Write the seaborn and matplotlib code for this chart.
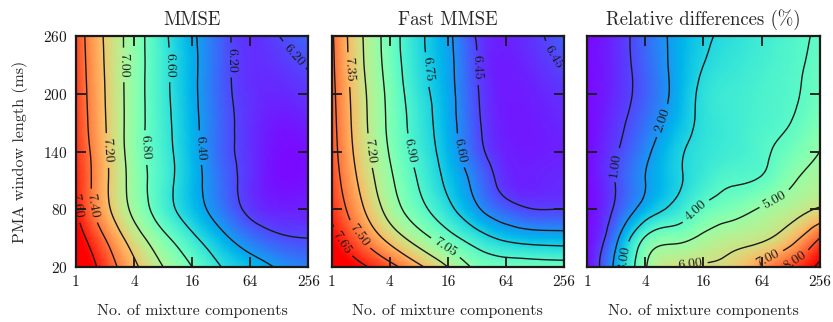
import numpy as np
import matplotlib
matplotlib.use("Agg")
import matplotlib.pyplot as plt
import matplotlib.tri as mtri
import seaborn as sns

# grid
components = [1, 2, 4, 8, 16, 32, 64, 128, 256]
window_ms = [20, 50, 80, 110, 140, 170, 200, 230, 260]

# rows: window length 20 -> 260, columns: components 1 -> 256
mmse = [
    [7.80, 7.52, 7.24, 7.00, 6.80, 6.60, 6.49, 6.38, 6.32],
    [7.70, 7.40, 7.10, 6.85, 6.64, 6.45, 6.30, 6.22, 6.20],
    [7.61, 7.26, 6.95, 6.69, 6.49, 6.31, 6.17, 6.12, 6.12],
    [7.58, 7.24, 6.92, 6.68, 6.47, 6.28, 6.15, 6.08, 6.09],
    [7.55, 7.23, 6.90, 6.67, 6.46, 6.26, 6.15, 6.08, 6.09],
    [7.53, 7.21, 6.90, 6.66, 6.45, 6.26, 6.15, 6.10, 6.12],
    [7.52, 7.20, 6.90, 6.65, 6.44, 6.25, 6.15, 6.13, 6.16],
    [7.51, 7.19, 6.90, 6.65, 6.44, 6.25, 6.15, 6.16, 6.21],
    [7.50, 7.18, 6.90, 6.64, 6.43, 6.25, 6.15, 6.20, 6.26],
]

fast_mmse = [
    [7.80, 7.68, 7.55, 7.38, 7.20, 7.02, 6.99, 6.98, 6.97],
    [7.70, 7.50, 7.30, 7.12, 6.96, 6.82, 6.72, 6.68, 6.67],
    [7.62, 7.38, 7.14, 6.95, 6.79, 6.62, 6.50, 6.45, 6.45],
    [7.58, 7.32, 7.08, 6.89, 6.72, 6.55, 6.41, 6.39, 6.40],
    [7.56, 7.28, 7.04, 6.85, 6.68, 6.49, 6.39, 6.38, 6.39],
    [7.55, 7.26, 7.02, 6.83, 6.66, 6.47, 6.38, 6.38, 6.40],
    [7.54, 7.25, 7.01, 6.81, 6.65, 6.46, 6.38, 6.39, 6.42],
    [7.53, 7.23, 6.99, 6.79, 6.64, 6.45, 6.38, 6.41, 6.46],
    [7.52, 7.22, 6.98, 6.78, 6.63, 6.44, 6.39, 6.43, 6.50],
]

rel_diff = [
    [0.30, 2.30, 4.90, 6.00, 6.10, 6.30, 7.30, 8.20, 9.20],
    [0.30, 1.80, 4.10, 4.70, 5.20, 5.60, 5.85, 6.60, 8.00],
    [0.30, 1.15, 2.40, 3.25, 4.15, 4.60, 5.10, 5.55, 6.10],
    [0.30, 1.05, 2.00, 2.80, 3.50, 3.90, 4.10, 4.85, 5.40],
    [0.30, 0.95, 1.80, 2.75, 3.30, 3.55, 3.85, 4.35, 5.00],
    [0.30, 0.80, 1.50, 2.40, 3.20, 3.50, 3.75, 4.00, 4.60],
    [0.30, 0.70, 1.30, 2.20, 3.20, 3.50, 3.70, 3.90, 4.30],
    [0.30, 0.70, 1.35, 2.20, 3.00, 3.35, 3.60, 3.85, 4.20],
    [0.30, 0.70, 1.40, 2.20, 2.85, 3.20, 3.50, 3.80, 4.10],
]

mmse_levels = [6.20, 6.40, 6.60, 6.80, 7.00, 7.20, 7.40, 7.60]
fast_levels = [6.45, 6.60, 6.75, 6.90, 7.05, 7.20, 7.35, 7.50, 7.65]
rel_levels = [1, 2, 3, 4, 5, 6, 7, 8, 9]

titles = ["MMSE", "Fast MMSE", "Relative differences (%)"]
x_ticks = [1, 4, 16, 64, 256]
y_ticks = [20, 80, 140, 200, 260]

# colour limits and where the contour labels sit (log2 components, ms)
color_limits = [(6.05, 7.65), (6.33, 7.70), (0.2, 9.0)]
label_spots = [
    [(0.14, 84), (0.69, 84), (1.07, 141), (1.59, 230), (2.38, 144),
     (3.14, 230), (4.28, 144), (5.31, 235), (7.38, 237)],
    [(0.31, 45), (0.93, 53), (0.55, 225), (1.34, 141), (2.71, 141),
     (3.23, 225), (3.99, 43), (4.43, 141), (4.95, 227), (7.42, 235)],
    [(0.96, 126), (2.5, 173), (1.3, 29), (3.71, 79), (6.46, 90),
     (3.54, 25), (6.19, 30), (7.08, 30)],
]

sns.set_theme(style="ticks")
plt.rcParams["font.family"] = ["cmr10", "DejaVu Serif"]
plt.rcParams["axes.formatter.use_mathtext"] = True
plt.rcParams["mathtext.fontset"] = "cm"

fig, axes = plt.subplots(1, 3, figsize=(8.33, 3.22), dpi=100, sharey=True)
fig.subplots_adjust(left=0.0912, right=0.984, bottom=0.171, top=0.888, wspace=0.1)

cmap = sns.color_palette("rainbow", as_cmap=True)
X, Y = np.meshgrid(np.log2(components), window_ms)
tri = mtri.Triangulation(X.ravel(), Y.ravel())
refiner = mtri.UniformTriRefiner(tri)

for ax, z, lev, title, lim, spots in zip(axes, [mmse, fast_mmse, rel_diff],
                                         [mmse_levels, fast_levels, rel_levels],
                                         titles, color_limits, label_spots):
    # smooth the coarse grid with matplotlib's cubic refiner
    tri_f, z_f = refiner.refine_field(np.array(z).ravel(), subdiv=3)
    ax.tripcolor(tri_f, z_f, shading="gouraud", cmap=cmap,
                 vmin=lim[0], vmax=lim[1], rasterized=True)
    cs = ax.tricontour(tri_f, z_f, levels=lev, colors="k", linewidths=1.0)
    ax.clabel(cs, fmt="%.2f", fontsize=10, inline=True, manual=spots)
    ax.set_title(title, fontsize=13.5, pad=8)
    ax.set_xlim(0, 8)
    ax.set_ylim(20, 260)
    ax.set_xticks(np.log2(x_ticks))
    ax.set_xticklabels([str(t) for t in x_ticks])
    ax.set_yticks(y_ticks)
    ax.set_axisbelow(False)
    ax.tick_params(direction="in", top=True, right=True, length=7, width=1.3,
                   labelsize=11, pad=6, colors="k")
    for s in ax.spines.values():
        s.set_linewidth(1.6)
        s.set_color("k")
    ax.set_xlabel("No. of mixture components", fontsize=11.5, labelpad=11)

axes[0].set_ylabel("PMA window length (ms)", fontsize=11.5, labelpad=11)

fig.savefig("out.png", dpi=100)
